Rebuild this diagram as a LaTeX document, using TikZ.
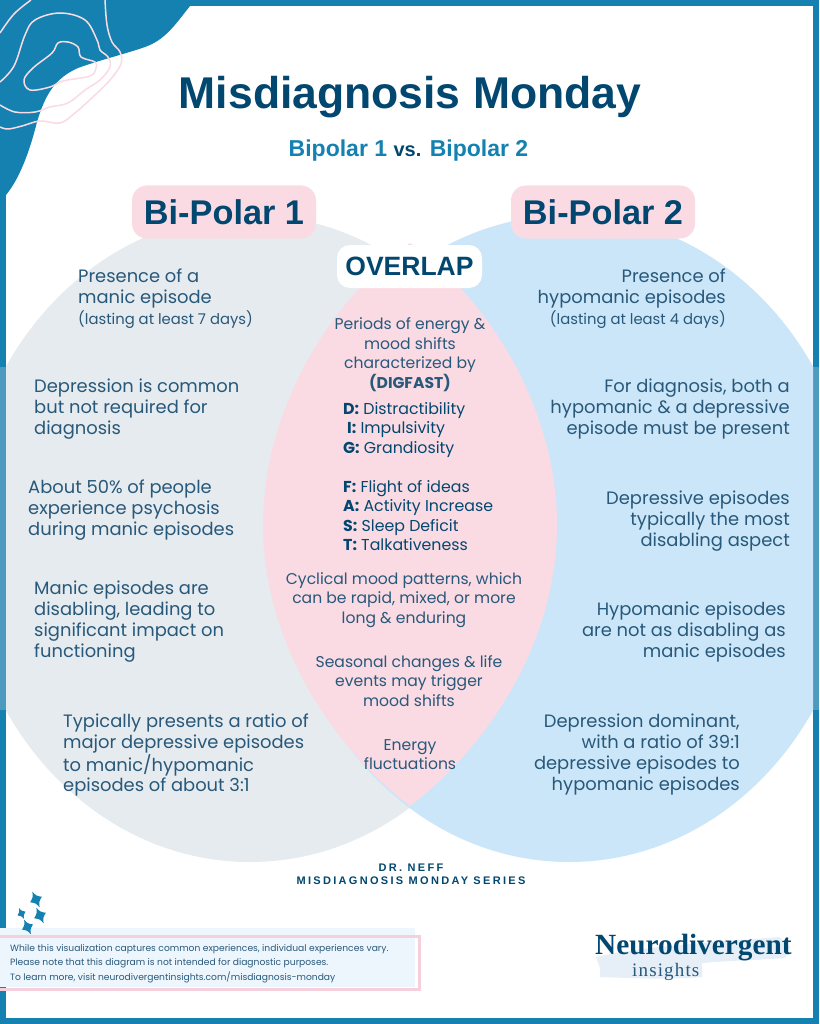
\documentclass[tikz,border=0pt]{standalone}
\usepackage{fontspec}
\setmainfont{Poppins}
\newfontfamily\headfont{Liberation Sans}
\newfontfamily\spacefont[LetterSpace=21]{Liberation Sans}
\newfontfamily\logofont{Liberation Serif}
\newfontfamily\logospaced[LetterSpace=6]{Liberation Serif}
\definecolor{edgeblue}{HTML}{1481B0}
\definecolor{navy}{HTML}{02476F}
\definecolor{bodyblue}{HTML}{28587A}
\definecolor{pinkfill}{HTML}{FADBE4}
\definecolor{greyfill}{HTML}{E5EBEE}
\definecolor{skyfill}{HTML}{CBE6F8}
\definecolor{notefill}{HTML}{EEF6FD}
\definecolor{notepink}{HTML}{F6CFDC}
\definecolor{brush}{HTML}{E6EFF7}
\definecolor{stripgrey}{HTML}{4C9BBF}
\tikzset{
 x=1pt,y=-1pt,
 lefttext/.style={anchor=north west,inner sep=0pt,align=left,text=bodyblue,font=\fontsize{17.9}{20.8}\selectfont},
 righttext/.style={anchor=north east,inner sep=0pt,align=right,text=bodyblue,font=\fontsize{17.9}{20.8}\selectfont},
 midtext/.style={anchor=north,inner sep=0pt,align=center,text=bodyblue,font=\fontsize{15.6}{19.5}\selectfont},
 listtext/.style={anchor=north west,inner sep=0pt,align=left,text=navy,font=\fontsize{15.8}{19.5}\selectfont},
 headpill/.style={rounded corners=15pt,fill=pinkfill,minimum width=184pt,minimum height=53pt,inner sep=0pt,text=navy,font=\headfont\bfseries\fontsize{34.3}{40}\selectfont},
 contour/.style={draw=pinkfill,line width=1.5pt,line join=round},
 spark/.style={fill=edgeblue,draw=none}
}
\newcommand{\sparkle}[3]{\fill[spark,shift={(#1,#2)},rotate=25,scale=#3] (0,-11) .. controls (1.5,-4.5) and (3,-3.5) .. (8,0) .. controls (3,3.5) and (1.5,4.5) .. (0,11) .. controls (-1.5,4.5) and (-3,3.5) .. (-8,0) .. controls (-3,-3.5) and (-1.5,-4.5) .. (0,-11) -- cycle;}
\newcommand{\smallline}[1]{{\fontsize{14.8}{20}\selectfont #1}}
\begin{document}
\begin{tikzpicture}
\useasboundingbox (0,0) rectangle (819,1024);
% frame
\fill[edgeblue] (0,0) rectangle (819,1024);
\fill[white] (6,6) rectangle (813,1018);
% corner blob
\fill[edgeblue] (0,0) -- (192,0) -- (190,6) .. controls (175,25) and (165,40) .. (145,47) .. controls (125,54) and (100,60) .. (78,68) .. controls (55,78) and (45,95) .. (37,122) .. controls (30,150) and (20,178) .. (6,195) -- (0,200) -- cycle;
% contours
\begin{scope}
\clip (0,0) rectangle (220,220);
\draw[contour] plot[smooth,tension=.6] coordinates {(105,0) (107,25) (112,42) (120,52) (121,64) (110,80) (95,95) (75,113) (60,123) (40,121) (22,126) (8,129) (0,127)};
\draw[contour] plot[smooth,tension=.6] coordinates {(31,0) (14,14) (0,33)};
\draw[contour] plot[smooth,tension=.6] coordinates {(0,82) (14,66) (25,35) (35,20) (60,13) (85,20) (97,40) (100,50) (108,57) (110,67) (100,80) (85,90) (68,103) (50,107) (35,112) (15,112) (0,105)};
\draw[contour] plot[smooth cycle,tension=.6] coordinates {(68,42) (78,47) (81,57) (95,62) (96,68) (90,76) (63,81) (50,87) (30,90) (24,80) (33,68) (52,53) (58,43)};
\end{scope}
% venn shapes
\fill[stripgrey] (0,367) rectangle (6,710);
\fill[stripgrey] (813,367) rectangle (819,710);
\begin{scope}
\clip (6,6) rectangle (813,1018);
\fill[greyfill] (250,538.5) ellipse [x radius=288,y radius=323.5];
\fill[skyfill] (569,538.5) ellipse [x radius=288,y radius=323.5];
\end{scope}
\fill[pinkfill] (410,243) .. controls (490,300) and (557,410) .. (557,525) .. controls (557,640) and (490,745) .. (410,806) .. controls (330,745) and (263,640) .. (263,525) .. controls (263,410) and (330,300) .. (410,243) -- cycle;
% titles
\node[text=navy,font=\headfont\bfseries\fontsize{44.5}{50}\selectfont] (title) at (410,97) {Misdiagnosis Monday};
\node[font=\headfont\bfseries\fontsize{23}{28}\selectfont] (subtitle) at (408.5,151) {\textcolor{edgeblue}{Bipolar 1} \textcolor{navy}{\fontsize{20}{28}\selectfont vs.} \textcolor{edgeblue}{Bipolar 2}};
\node[headpill] (bp1) at (224,212) {Bi-Polar 1};
\node[headpill] (bp2) at (603,212) {Bi-Polar 2};
\node[rounded corners=13pt,fill=white,minimum width=145pt,minimum height=43pt,inner sep=0pt,text=navy,font=\headfont\bfseries\fontsize{26.5}{32}\selectfont] (overlap) at (409.5,266.5) {OVERLAP};
% left column
\node[lefttext] (l1) at (78,268) {\strut Presence of a\\manic episode\\\smallline{(lasting at least 7 days)}};
\node[lefttext] (l2) at (34,378) {\strut Depression is common\\but not required for\\diagnosis};
\node[lefttext] (l3) at (28,479) {\strut About 50\% of people\\experience psychosis\\during manic episodes};
\node[lefttext] (l4) at (34,580) {\strut Manic episodes are\\disabling, leading to\\significant impact on\\functioning};
\node[lefttext] (l5) at (63,713) {\strut Typically presents a ratio of\\major depressive episodes\\to manic/hypomanic\\episodes of about 3:1};
% right column
\node[righttext] (r1) at (726,268) {\strut Presence of\\hypomanic episodes\\\smallline{(lasting at least 4 days)}};
\node[righttext] (r2) at (790,378) {\strut For diagnosis, both a\\hypomanic \& a depressive\\episode must be present};
\node[righttext] (r3) at (790,490) {\strut Depressive episodes\\typically the most\\disabling aspect};
\node[righttext] (r4) at (786,601) {\strut Hypomanic episodes\\are not as disabling as\\manic episodes};
\node[righttext] (r5) at (740,713) {\strut Depression dominant,\\with a ratio of 39:1\\depressive episodes to\\hypomanic episodes};
% centre column
\node[midtext] (m1) at (410,316) {\strut Periods of energy \&\\mood shifts\\characterized by\\\textbf{(DIGFAST)}};
\node[listtext] (d1) at (343,400.5) {\strut\textbf{D:} Distractibility\\\hspace*{4pt}\textbf{I:} Impulsivity\\\textbf{G:} Grandiosity};
\node[listtext] (d2) at (343,478.5) {\strut\textbf{F:} Flight of ideas\\\textbf{A:} Activity Increase\\\textbf{S:} Sleep Deficit\\\textbf{T:} Talkativeness};
\node[midtext] (m2) at (404,570.5) {\strut Cyclical mood patterns, which\\can be rapid, mixed, or more\\long \& enduring};
\node[midtext] (m3) at (409,653.5) {\strut Seasonal changes \& life\\events may trigger\\mood shifts};
\node[midtext] (m4) at (410,736.5) {\strut Energy\\fluctuations};
% credit
\node[anchor=north,inner sep=0pt,align=center,text=navy,font=\spacefont\bfseries\fontsize{11}{13}\selectfont] (credit) at (411,863.5) {DR. NEFF\\MISDIAGNOSIS MONDAY SERIES};
% note box
\fill[notefill] (0,928) rectangle (415,987);
\draw[notepink,line width=3pt] (-3,936.5) -- (419.5,936.5) -- (419.5,989) -- (-3,989);
\node[anchor=north west,inner sep=0pt,align=left,text=bodyblue,font=\fontsize{9.15}{14.4}\selectfont] (note) at (10,941) {\strut While this visualization captures common experiences, individual experiences vary.\\Please note that this diagram is not intended for diagnostic purposes.\\To learn more, visit neurodivergentinsights.com/misdiagnosis-monday};
% sparkles
\sparkle{36}{899.5}{.8}
\sparkle{21.5}{913.5}{.55}
\sparkle{40}{915.5}{.8}
\sparkle{27.5}{927}{.75}
% logo
\fill[brush] (596,957) .. controls (650,945) and (720,942) .. (779,937) -- (790,947) -- (785,958) .. controls (760,960) and (740,960) .. (702,963) -- (702,977) .. controls (670,980) and (630,978) .. (600,977) -- (600,968) -- cycle;
\node[anchor=west,inner sep=0pt,text=navy,font=\logofont\bfseries\fontsize{29.3}{32}\selectfont] (logo1) at (595,948) {Neurodivergent};
\node[anchor=west,inner sep=0pt,text=bodyblue,font=\logospaced\fontsize{19}{22}\selectfont] (logo2) at (632,972) {insights};
\end{tikzpicture}
\end{document}
